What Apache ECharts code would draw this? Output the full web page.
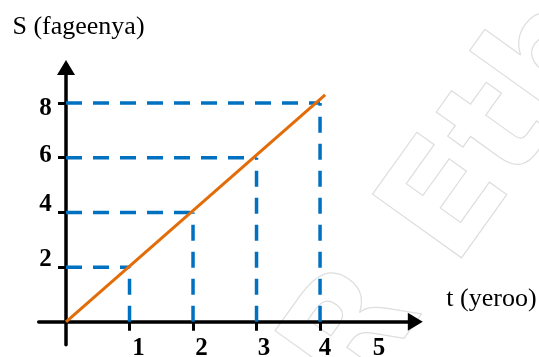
<!DOCTYPE html>
<html>
<head>
<meta charset="utf-8">
<script src="https://cdn.jsdelivr.net/npm/echarts@6/dist/echarts.min.js"></script>
<style>
  html, body { margin: 0; padding: 0; background: #fff; }
  #chart { width: 539px; height: 357px; }
</style>
</head>
<body>
<div id="chart"></div>
<script>
// data
const tTicks = [1, 2, 3, 4];
const tLabels = [1, 2, 3, 4, 5];
const sTicks = [2, 4, 6, 8];
const guideT = [1, 2, 3, 4];
const guideS = [2, 4, 6, 8];
const lineT = [0, 4.08];
const lineS = [0, 8.3];

const serif = "'Liberation Serif', 'Times New Roman', serif";
const blue = '#0070C0';
const orange = '#E36C09';
// labels in the picture sit a bit off their ticks
const tLabelPad = { 1: [0, 0, 0, 18], 2: [0, 0, 0, 17], 3: [0, 0, 0, 15], 4: [0, 0, 0, 10], 5: [0, 9, 0, 0] };
const sLabelPad = { 2: [0, 0, 16, 0], 4: [0, 0, 16, 0], 6: [0, 0, 4, 0], 8: [10, 0, 0, 0] };

function richFor(pads) {
  let rich = {};
  for (let k in pads) {
    rich['v' + k] = { fontFamily: serif, fontSize: 25, fontWeight: 'bold', color: '#000', padding: pads[k] };
  }
  return rich;
}

let series = [];
// blue dashed guides: one horizontal from the S axis, one vertical from the t axis
for (let i = 0; i < guideT.length; i++) {
  series.push({
    type: 'line', symbol: 'none', silent: true, z: 3,
    lineStyle: { color: blue, width: 3.5, type: [16, 11] },
    data: [[0, guideS[i]], [guideT[i], guideS[i]]]
  });
  series.push({
    type: 'line', symbol: 'none', silent: true, z: 3,
    lineStyle: { color: blue, width: 3.5, type: [16, 11] },
    data: [[guideT[i], 0], [guideT[i], guideS[i]]]
  });
}
series.push({
  type: 'line', symbol: 'none', z: 5,
  lineStyle: { color: orange, width: 3 },
  data: lineT.map((t, i) => [t, lineS[i]])
});

let mychart = echarts.init(document.getElementById('chart'));
mychart.setOption({
  animation: false,
  grid: { left: 38.7, right: 123.7, top: 67.5, bottom: 12.2, outerBoundsMode: 'none', containLabel: false },
  graphic: [{
    type: 'text', x: 455, y: 200, rotation: 0.95, z: -10, silent: true,
    style: {
      text: 'R Etb', font: 'bold 150px "DejaVu Sans"',
      fill: 'rgba(255,255,255,0)', stroke: '#dedede', lineWidth: 1.2,
      align: 'center', verticalAlign: 'middle'
    }
  }],
  xAxis: {
    type: 'value', min: -0.43, max: 5.5,
    name: 't (yeroo)', nameLocation: 'end', nameGap: 31,
    nameTextStyle: { fontFamily: serif, fontSize: 26, color: '#000', align: 'left',
      verticalAlign: 'bottom', padding: [0, 0, 10, 0] },
    splitLine: { show: false },
    axisLine: { onZero: true, symbol: ['none', 'triangle'], symbolSize: [18, 15],
      lineStyle: { color: '#000', width: 3.5 } },
    axisTick: { show: true, customValues: tTicks, length: 9, inside: false,
      lineStyle: { color: '#000', width: 3 } },
    axisLabel: { customValues: tLabels, margin: -9, hideOverlap: false,
      formatter: v => '{v' + v + '|' + v + '}', rich: richFor(tLabelPad) }
  },
  yAxis: {
    type: 'value', min: -0.84, max: 9.3,
    name: 'S (fageenya)', nameLocation: 'end', nameGap: 27,
    nameTextStyle: { fontFamily: serif, fontSize: 26, color: '#000', padding: [0, 0, 0, 25] },
    splitLine: { show: false },
    axisLine: { onZero: true, symbol: ['none', 'triangle'], symbolSize: [18, 15],
      lineStyle: { color: '#000', width: 3.5 } },
    axisTick: { show: true, customValues: sTicks, length: 8, inside: false,
      lineStyle: { color: '#000', width: 3 } },
    axisLabel: { customValues: sTicks, margin: -13, hideOverlap: false,
      formatter: v => '{v' + v + '|' + v + '}', rich: richFor(sLabelPad) }
  },
  series: series
});
</script>
</body>
</html>
